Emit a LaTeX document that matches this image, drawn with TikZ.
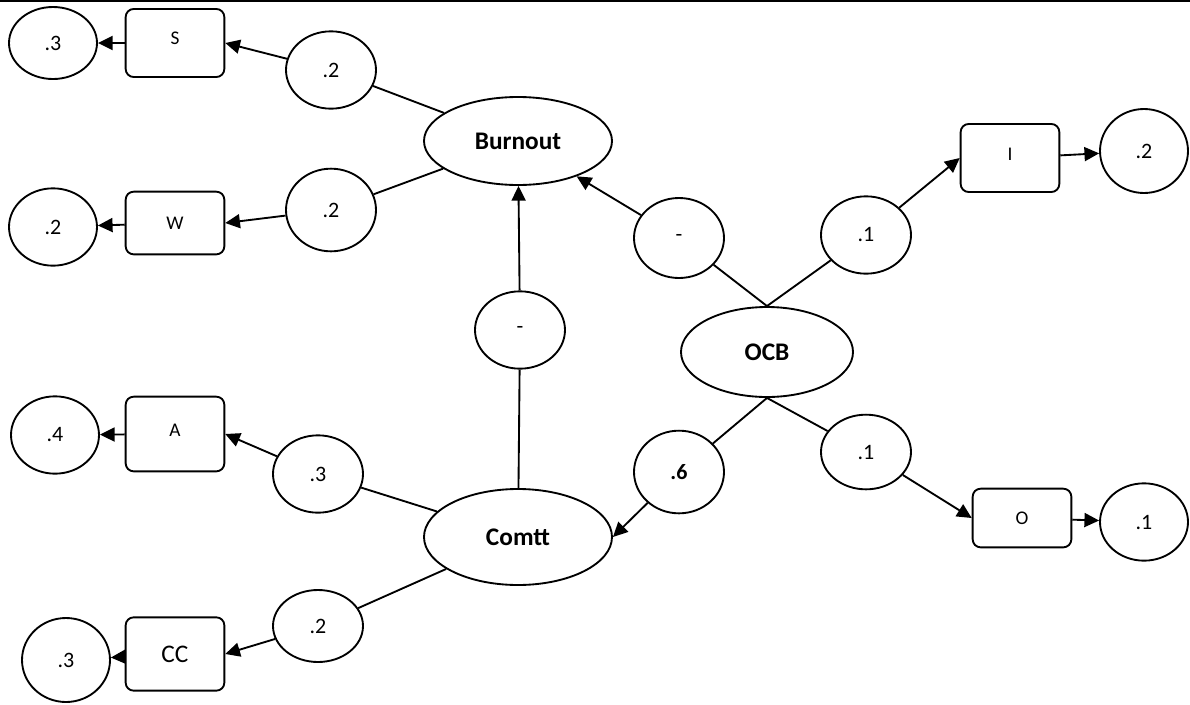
\documentclass[tikz,border=0pt]{standalone}
\usepackage{fontspec}
\setmainfont{Carlito}
\usetikzlibrary{arrows.meta,shapes.geometric}

\begin{document}
\begin{tikzpicture}[x=0.75pt, y=-0.75pt, line width=1.4pt,
        errcirc/.style={ellipse, draw, inner sep=0pt, minimum width=66pt, minimum height=58pt, font=\fontsize{16.5}{18}\selectfont},
        loadcirc/.style={ellipse, draw, inner sep=0pt, minimum width=67.5pt, minimum height=58pt, font=\fontsize{16.5}{18}\selectfont},
        indbox/.style={rectangle, draw, rounded corners=6pt, minimum width=74pt, minimum height=51pt, font=\fontsize{14.5}{16}\selectfont},
        latent/.style={ellipse, draw, inner sep=0pt, minimum width=141pt, minimum height=66pt, font=\fontsize{19}{21}\selectfont\bfseries},
        arr/.style={-{Triangle[length=11pt,width=10.5pt]}}]
    \useasboundingbox (0,0) rectangle (1190,704);
    \draw[line width=2pt] (0,1) -- (1190,1);

    % latent variables
    \node[latent] (burnout) at (518,141) {Burnout};
    \node[latent, minimum height=72pt] (comtt) at (518,537) {Comtt};
    \node[latent, minimum width=129pt, minimum height=67.5pt] (ocb) at (767,352) {OCB};

    % burnout side
    \node[loadcirc] (lS) at (331,70) {.2};
    \node[indbox] (bS) at (175,43) {\raisebox{7pt}{S}};
    \node[errcirc, minimum height=54pt] (cS) at (53,43) {.3};
    \node[loadcirc, minimum height=62pt] (lW) at (331,210) {.2};
    \node[indbox, minimum height=47pt] (bW) at (175,223) {W};
    \node[errcirc] (cW) at (53,227) {.2};

    % commitment side
    \node[loadcirc] (mBC) at (520,330) {-};
    \node[loadcirc] (lA) at (318,474) {.3};
    \node[indbox, minimum height=56pt] (bA) at (175,434) {\raisebox{5pt}{A}};
    \node[errcirc] (cA) at (55,435) {.4};
    \node[loadcirc, minimum height=54pt] (lCC) at (318,626) {.2};
    \node[indbox, minimum height=55pt, font=\fontsize{19}{21}\selectfont] (bCC) at (175,654) {CC};
    \node[errcirc, minimum height=63pt] (cCC) at (66,660) {.3};

    % ocb side
    \node[loadcirc, minimum height=60pt] (mBO) at (679,238) {-};
    \node[loadcirc] (lI) at (866,235) {.1};
    \node[indbox] (bI) at (1010,158) {\raisebox{5pt}{I}};
    \node[errcirc, minimum height=63pt] (cI) at (1144,151) {.2};
    \node[loadcirc, minimum height=62pt, font=\fontsize{16.5}{18}\selectfont\bfseries] (m6) at (679,472) {.6};
    \node[loadcirc, minimum height=56pt] (lO) at (866,452) {.1};
    \node[indbox, minimum height=44pt] (bO) at (1022,518) {O};
    \node[errcirc] (cO) at (1144,522) {.1};

    \draw (burnout) -- (lS);
    \draw[arr] (lS) -- (bS.east);
    \draw[arr] (bS) -- (cS);
    \draw (burnout) -- (lW);
    \draw[arr] (lW) -- (bW.east);
    \draw[arr] (bW) -- (cW);

    \draw (comtt) -- (mBC);
    \draw[arr] (mBC) -- (burnout);
    \draw (comtt) -- (lA);
    \draw[arr] (lA) -- (bA.east);
    \draw[arr] (bA) -- (cA);
    \draw (comtt) -- (lCC);
    \draw[arr] (lCC) -- (bCC.east);
    \draw[arr] (bCC) -- (cCC);

    \draw (ocb.north) -- (mBO);
    \draw[arr] (mBO) -- (burnout);
    \draw (ocb.north) -- (lI);
    \draw[arr] (lI) -- (bI.west);
    \draw[arr] (bI) -- (cI);
    \draw (ocb.south) -- (m6);
    \draw[arr] (m6) -- (comtt.east);
    \draw (ocb.south) -- (lO);
    \draw[arr] (lO) -- (bO.west);
    \draw[arr] (bO) -- (cO);
\end{tikzpicture}
\end{document}
